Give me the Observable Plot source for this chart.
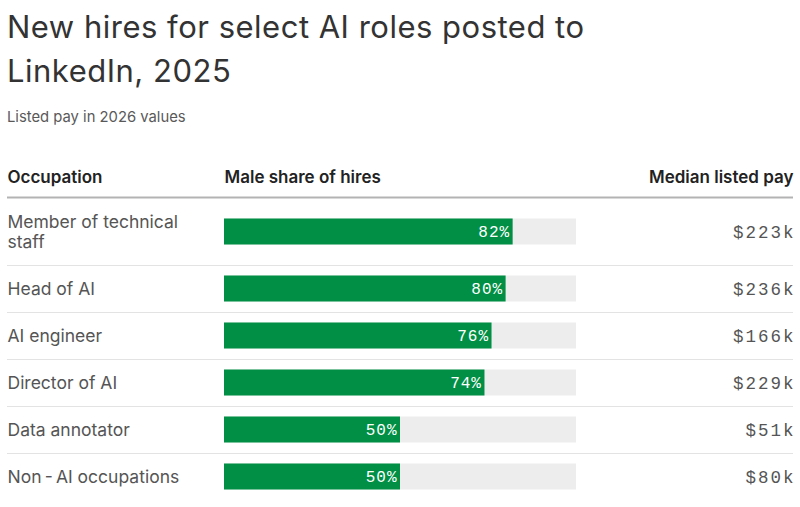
<!DOCTYPE html>
<html>
<head>
<meta charset="utf-8">
<script src="https://cdn.jsdelivr.net/npm/d3@7"></script>
<script src="https://cdn.jsdelivr.net/npm/@observablehq/plot@0.6"></script>
<style>
  html, body { margin: 0; padding: 0; background: #fff; }
  body { width: 800px; height: 507px; overflow: hidden; font-family: Inter, "Noto Sans", sans-serif; }
  #head { height: 140px; box-sizing: border-box; padding: 5px 7px 0 7px; }
  #title { font-size: 31px; line-height: 44px; color: #333; font-weight: 400; letter-spacing: 0.5px; margin: 0; }
  #subtitle { font-size: 14.8px; color: #595959; margin-top: 15px; }
</style>
</head>
<body>
<div id="head">
  <div id="title">New hires for select AI roles posted to<br>LinkedIn, 2025</div>
  <div id="subtitle">Listed pay in 2026 values</div>
</div>
<div id="chart"></div>
<script>
// ---- data ----
const occupations = ["Member of technical staff", "Head of AI", "AI engineer", "Director of AI", "Data annotator", "Non\u2009-\u2009AI occupations"];
const maleShare = [82, 80, 76, 74, 50, 50];           // percent
const medianPay = [223, 236, 166, 229, 51, 80];      // thousands of dollars
const columnHeaders = ["Occupation", "Male share of hires", "Median listed pay"];

// ---- layout helpers ----
const W = 800, H = 367;
const labelSize = 17.5;
const labelMaxWidth = 200;
const ctx = document.createElement("canvas").getContext("2d");
ctx.font = labelSize + "px Inter";
function wrap(s) {
  const words = s.split(" ");
  const lines = [];
  let cur = "";
  for (const w of words) {
    const t = cur ? cur + " " + w : w;
    if (cur && ctx.measureText(t).width > labelMaxWidth) { lines.push(cur); cur = w; }
    else cur = t;
  }
  lines.push(cur);
  return lines;
}
const rowBase = 47, lineH = 20, barH = 26;
let rowTop = 0;
const rows = occupations.map((name, i) => {
  const lines = wrap(name);
  const h = rowBase + lineH * (lines.length - 1);
  const r = {
    name, label: lines.join("\n"), share: maleShare[i], pay: medianPay[i],
    top: rowTop, bottom: rowTop + h, center: rowTop + 23.5 + (lineH / 2) * (lines.length - 1)
  };
  rowTop += h;
  return r;
});
const headerOffset = 58; // pixels reserved above the first row

const payFmt = d => "$" + d + "k";
const pctFmt = d => d + "%";
const mono = "'Liberation Mono', 'DejaVu Sans Mono', monospace";

const chart = Plot.plot({
  width: W,
  height: H,
  marginLeft: 7,
  marginRight: 7,
  marginTop: 0,
  marginBottom: 0,
  x: { domain: [0, 100], range: [224, 576], axis: null },
  y: { domain: [-headerOffset, H - headerOffset], range: [0, H], axis: null },
  style: { fontFamily: "Inter, 'Noto Sans', sans-serif", background: "#fff" },
  marks: [
    // column headers
    Plot.text([columnHeaders[0]], { frameAnchor: "left", y: () => -16, text: d => d, textAnchor: "start", lineAnchor: "bottom", fontSize: 17, fontWeight: 600, fill: "#222" }),
    Plot.text([columnHeaders[1]], { x: () => 0, y: () => -16, text: d => d, textAnchor: "start", lineAnchor: "bottom", fontSize: 17, fontWeight: 600, fill: "#222" }),
    Plot.text([columnHeaders[2]], { frameAnchor: "right", y: () => -16, text: d => d, textAnchor: "end", lineAnchor: "bottom", fontSize: 17, fontWeight: 600, fill: "#222" }),
    // header rule
    Plot.ruleY([-1], { stroke: "#b3b3b3", strokeWidth: 2 }),
    // row separators
    Plot.ruleY(rows.slice(0, -1), { y: "bottom", stroke: "#e3e3e3", strokeWidth: 1 }),
    // track
    Plot.rect(rows, { x1: () => 0, x2: () => 100, y1: d => d.center - barH / 2, y2: d => d.center + barH / 2, fill: "#ededed" }),
    // bars
    Plot.rect(rows, { x1: () => 0, x2: "share", y1: d => d.center - barH / 2, y2: d => d.center + barH / 2, fill: "#008f45" }),
    // percent labels
    Plot.text(rows, { x: "share", y: "center", text: d => pctFmt(d.share), textAnchor: "end", dx: -3, fill: "#fff", fontSize: 16, fontFamily: mono, ariaDescription: "pct-labels" }),
    // occupation labels
    Plot.text(rows, { frameAnchor: "left", y: "center", text: "label", textAnchor: "start", lineAnchor: "middle", lineHeight: 20 / labelSize, fontSize: labelSize, fill: "#555" }),
    // pay labels
    Plot.text(rows, { frameAnchor: "right", y: "center", text: d => payFmt(d.pay), textAnchor: "end", dx: 2, fontSize: 17.5, fill: "#555", fontFamily: mono, ariaDescription: "pay-labels" })
  ]
});
d3.select(chart).selectAll('[aria-description="pct-labels"], [aria-description="pct-labels"] text').style("letter-spacing", "1px");
d3.select(chart).selectAll('[aria-description="pay-labels"], [aria-description="pay-labels"] text').style("letter-spacing", "2px");
document.getElementById("chart").appendChild(chart);
</script>
</body>
</html>
